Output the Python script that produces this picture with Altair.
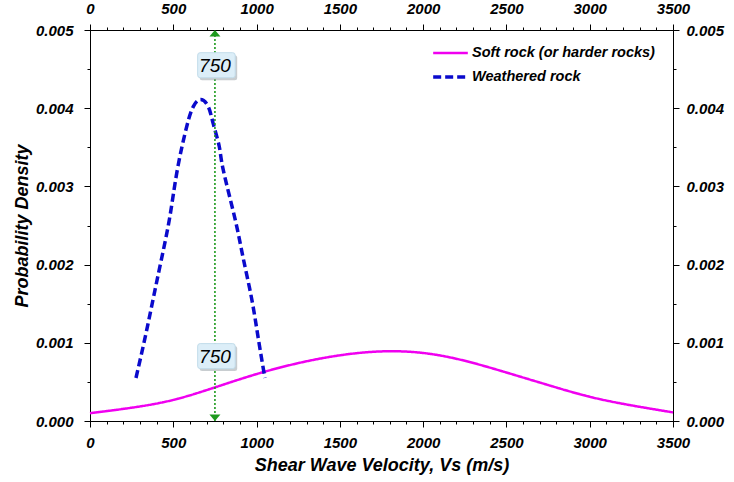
import altair as alt
import pandas as pd

# ---- data ----
soft_vs = [0, 250, 500, 750, 1000, 1250, 1500, 1750, 2000, 2250, 2500, 2750, 3000, 3250, 3500]
soft_pdf = [0.00010, 0.00017, 0.00027, 0.00043, 0.00060, 0.00074, 0.00084, 0.00089,
            0.00087, 0.00077, 0.00062, 0.00046, 0.00031, 0.00020, 0.00011]

weath_vs = [276, 330, 380, 430, 480, 524, 580, 620, 664, 710, 740, 776, 800, 870, 920, 970, 1010, 1050]
weath_pdf = [0.00055, 0.00106, 0.00157, 0.00208, 0.00262, 0.00321, 0.00376, 0.00402, 0.00411,
             0.00402, 0.00380, 0.00351, 0.00321, 0.00259, 0.00208, 0.00157, 0.00106, 0.00055]

series_names = ["Soft rock (or harder rocks)", "Weathered rock"]

marker_vs = [750]
marker_y0 = [0.0]
marker_y1 = [0.005]
label_vs = [750, 750]
label_pdf = [0.00455, 0.00083]
label_text = ["750", "750"]

x_ticks = list(range(0, 3501, 500))
x_minor = list(range(0, 3501, 100))
y_ticks = [0.0, 0.001, 0.002, 0.003, 0.004, 0.005]
y_minor = [i * 0.0005 for i in range(11)]

# ---- tables ----
df_lines = pd.concat([
    pd.DataFrame({"vs": soft_vs, "pdf": soft_pdf, "series": series_names[0]}),
    pd.DataFrame({"vs": weath_vs, "pdf": weath_pdf, "series": series_names[1]}),
], ignore_index=True)
df_marker = pd.DataFrame({"vs": marker_vs, "pdf": marker_y0, "pdf2": marker_y1})
df_labels = pd.DataFrame({"vs": label_vs, "pdf": label_pdf, "txt": label_text})

FONT = "Liberation Sans"
xs = alt.Scale(domain=[0, 3500], nice=False, zero=False)
ys = alt.Scale(domain=[0, 0.005], nice=False)

lab = dict(labelFont=FONT, labelFontSize=15, labelFontWeight="bold", labelFontStyle="italic",
           labelColor="black", tickColor="black", domainColor="black", grid=False,
           labelFlush=False, labelOverlap=False)

lines = alt.Chart(df_lines).mark_line(interpolate="natural", strokeJoin="round").encode(
    x=alt.X("vs:Q", scale=xs, axis=alt.Axis(
        orient="bottom", values=x_ticks, format="d", title="Shear Wave Velocity, Vs (m/s)",
        titleFont=FONT, titleFontSize=18, titleFontWeight="bold", titleFontStyle="italic",
        titleColor="black", titlePadding=6, tickSize=6, labelPadding=8, **lab)),
    y=alt.Y("pdf:Q", scale=ys, axis=alt.Axis(
        orient="left", values=y_ticks, format=".3f", title="Probability Density",
        titleFont=FONT, titleFontSize=18, titleFontWeight="bold", titleFontStyle="italic",
        titleColor="black", titlePadding=4, tickSize=6, labelPadding=11, **lab)),
    color=alt.Color("series:N", scale=alt.Scale(domain=series_names, range=["#F000F0", "#0A0ACC"]),
                    legend=alt.Legend(title=None, orient="none", legendX=341, legendY=12,
                                      symbolType="stroke", symbolSize=1200, symbolStrokeWidth=2.5,
                                      labelFont=FONT, labelFontSize=14.5, labelFontWeight="bold",
                                      labelFontStyle="italic", labelColor="black", labelOffset=2,
                                      labelLimit=0, rowPadding=2, clipHeight=22, padding=0)),
    strokeDash=alt.StrokeDash("series:N", scale=alt.Scale(domain=series_names, range=[[1, 0], [8, 4]]),
                              legend=alt.Legend(title=None, orient="none", legendX=341, legendY=12)),
    strokeWidth=alt.StrokeWidth("series:N", scale=alt.Scale(domain=series_names, range=[2.5, 3.5]),
                                legend=None),
)

minor_bl = alt.Chart(df_lines).mark_point(opacity=0).encode(
    x=alt.X("vs:Q", scale=xs, axis=alt.Axis(orient="bottom", values=x_minor, labels=False, domain=False,
                                            tickSize=3, title=None, tickColor="black", grid=False)),
    y=alt.Y("pdf:Q", scale=ys, axis=alt.Axis(orient="left", values=y_minor, labels=False, domain=False,
                                             tickSize=3, title=None, tickColor="black", grid=False)),
)

major_tr = alt.Chart(df_lines).mark_point(opacity=0).encode(
    x=alt.X("vs:Q", scale=xs, axis=alt.Axis(orient="top", values=x_ticks, format="d", title=None,
                                            tickSize=6, labelPadding=8, **lab)),
    y=alt.Y("pdf:Q", scale=ys, axis=alt.Axis(orient="right", values=y_ticks, format=".3f", title=None,
                                             tickSize=6, labelPadding=7, **lab)),
)

minor_tr = alt.Chart(df_lines).mark_point(opacity=0).encode(
    x=alt.X("vs:Q", scale=xs, axis=alt.Axis(orient="top", values=x_minor, labels=False, domain=False,
                                            tickSize=3, title=None, tickColor="black", grid=False)),
    y=alt.Y("pdf:Q", scale=ys, axis=alt.Axis(orient="right", values=y_minor, labels=False, domain=False,
                                             tickSize=3, title=None, tickColor="black", grid=False)),
)

vline = alt.Chart(df_marker).mark_rule(color="#1E9A1E", strokeWidth=1.6, strokeDash=[2, 2]).encode(
    x=alt.X("vs:Q", scale=xs, axis=None),
    y=alt.Y("pdf:Q", scale=ys, axis=None),
    y2="pdf2:Q",
)
arrow_up = alt.Chart(df_marker).mark_point(shape="M0,0 L-1,1.2 L1,1.2 Z", filled=True, size=121,
                                           color="#1E9A1E", opacity=1).encode(
    x=alt.X("vs:Q", scale=xs, axis=None),
    y=alt.Y("pdf2:Q", scale=ys, axis=None),
)
arrow_down = alt.Chart(df_marker).mark_point(shape="M0,0 L-1,-1.2 L1,-1.2 Z", filled=True, size=121,
                                             color="#1E9A1E", opacity=1).encode(
    x=alt.X("vs:Q", scale=xs, axis=None),
    y=alt.Y("pdf:Q", scale=ys, axis=None),
)

BOX = ("M-1.3,-1 L1.3,-1 Q1.5,-1 1.5,-0.8 L1.5,0.8 Q1.5,1 1.3,1 L-1.3,1 "
       "Q-1.5,1 -1.5,0.8 L-1.5,-0.8 Q-1.5,-1 -1.3,-1 Z")
shadow = alt.Chart(df_labels).mark_point(shape=BOX, filled=True, size=625, color="#9AA4AA",
                                         opacity=0.55, xOffset=3.5, yOffset=2.5).encode(
    x=alt.X("vs:Q", scale=xs, axis=None),
    y=alt.Y("pdf:Q", scale=ys, axis=None),
)
box = alt.Chart(df_labels).mark_point(shape=BOX, filled=True, size=625, fill="#DCEEF8",
                                      stroke="#C2DCEA", strokeWidth=1, opacity=1, xOffset=1.5).encode(
    x=alt.X("vs:Q", scale=xs, axis=None),
    y=alt.Y("pdf:Q", scale=ys, axis=None),
)
txt = alt.Chart(df_labels).mark_text(font=FONT, fontSize=19, fontStyle="italic", color="black",
                                     baseline="middle", align="center", yOffset=1).encode(
    x=alt.X("vs:Q", scale=xs, axis=None),
    y=alt.Y("pdf:Q", scale=ys, axis=None),
    text="txt:N",
)

chart = alt.layer(
    lines, minor_bl, major_tr, minor_tr, vline, arrow_up, arrow_down, shadow, box, txt
).resolve_axis(x="independent", y="independent").properties(
    width=583, height=391,
    autosize=alt.AutoSizeParams(type="none"),
    padding={"left": 90, "top": 30, "right": 61, "bottom": 61},
    background="white",
).configure_view(stroke="black", strokeWidth=1)

chart.save("out.html", embed_options={"renderer": "svg", "actions": False})
